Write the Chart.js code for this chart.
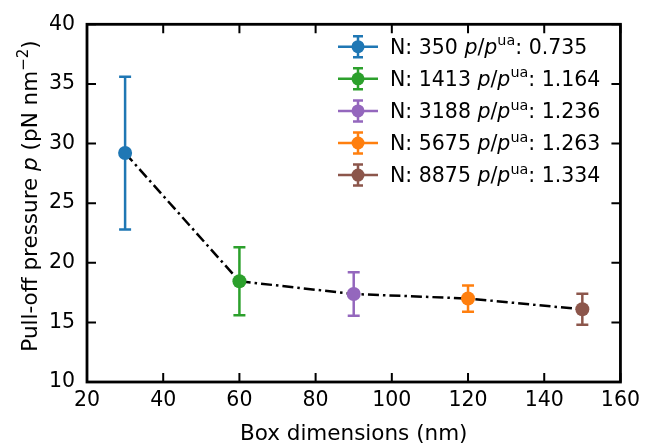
<!DOCTYPE html>
<html>
<head>
<meta charset="utf-8">
<script src="https://cdn.jsdelivr.net/npm/chart.js@4.4.1/dist/chart.umd.min.js"></script>
<style>
  html, body { margin: 0; padding: 0; background: #fff; }
  #wrap { width: 646px; height: 443px; position: relative; }
</style>
</head>
<body>
<div id="wrap"><canvas id="pressureChart"></canvas></div>
<script>
const boxSizes = [30, 60, 90, 120, 150];
const pressure = [29.2, 18.45, 17.38, 17.0, 16.1];
const pressureErr = [6.4, 2.85, 1.82, 1.1, 1.3];
const atomCounts = [350, 1413, 3188, 5675, 8875];
const pressureRatio = ["0.735", "1.164", "1.236", "1.263", "1.334"];
const seriesColors = ["#1f77b4", "#2ca02c", "#9467bd", "#ff7f0e", "#8c564b"];
const xTicks = [20, 40, 60, 80, 100, 120, 140, 160];
const yTicks = [10, 15, 20, 25, 30, 35, 40];

const FAMILY = "'DejaVu Sans', sans-serif";
const TICK_SIZE = 20.5;
const LABEL_SIZE = 21.5;
const LEGEND_SIZE = 20.5;

// mixed text: each run can be italic and/or raised as a superscript
function runFont(run, size) {
    const s = run.sup ? size * 0.7 : size;
    return (run.italic ? "italic " : "") + s + "px " + FAMILY;
}

function runsWidth(ctx, runs, size) {
    let w = 0;
    runs.forEach(r => {
        ctx.font = runFont(r, size);
        w += ctx.measureText(r.text).width;
    });
    return w;
}

function drawRuns(ctx, runs, x, y, size) {
    ctx.textAlign = "left";
    ctx.textBaseline = "alphabetic";
    runs.forEach(r => {
        ctx.font = runFont(r, size);
        const dy = r.sup ? -size * 0.42 : 0;
        ctx.fillText(r.text, x, y + dy);
        x += ctx.measureText(r.text).width;
    });
}

const trendLine = {
    data: boxSizes.map((x, i) => ({ x: x, y: pressure[i] })),
    showLine: true,
    borderColor: "#000",
    borderWidth: 2.5,
    borderDash: [11, 4, 2.5, 4],
    pointRadius: 0,
    fill: false,
    order: 1
};

const pointSets = boxSizes.map((x, i) => ({
    data: [{ x: x, y: pressure[i] }],
    backgroundColor: seriesColors[i],
    borderColor: seriesColors[i],
    borderWidth: 0,
    pointRadius: 7,
    showLine: false,
    order: 0
}));

const errorBars = {
    id: "errorBars",
    beforeDatasetsDraw(chart) {
        const ctx = chart.ctx;
        const xs = chart.scales.x, ys = chart.scales.y;
        ctx.save();
        ctx.lineWidth = 2.5;
        boxSizes.forEach((bx, i) => {
            const px = xs.getPixelForValue(bx);
            const top = ys.getPixelForValue(pressure[i] + pressureErr[i]);
            const bot = ys.getPixelForValue(pressure[i] - pressureErr[i]);
            ctx.strokeStyle = seriesColors[i];
            ctx.beginPath();
            ctx.moveTo(px, top); ctx.lineTo(px, bot);
            ctx.moveTo(px - 6, top); ctx.lineTo(px + 6, top);
            ctx.moveTo(px - 6, bot); ctx.lineTo(px + 6, bot);
            ctx.stroke();
        });
        ctx.restore();
    }
};

const frameAndLabels = {
    id: "frameAndLabels",
    afterDraw(chart) {
        const ctx = chart.ctx;
        const a = chart.chartArea;
        const xs = chart.scales.x, ys = chart.scales.y;
        ctx.save();

        // inward ticks on all four sides
        ctx.strokeStyle = "#000";
        ctx.lineWidth = 2;
        ctx.beginPath();
        xTicks.forEach(v => {
            const px = xs.getPixelForValue(v);
            ctx.moveTo(px, a.bottom); ctx.lineTo(px, a.bottom - 9);
            ctx.moveTo(px, a.top); ctx.lineTo(px, a.top + 9);
        });
        yTicks.forEach(v => {
            const py = ys.getPixelForValue(v);
            ctx.moveTo(a.left, py); ctx.lineTo(a.left + 9, py);
            ctx.moveTo(a.right, py); ctx.lineTo(a.right - 9, py);
        });
        ctx.stroke();

        ctx.lineWidth = 2.8;
        ctx.strokeRect(a.left, a.top, a.right - a.left, a.bottom - a.top);

        // axis titles
        ctx.fillStyle = "#000";
        const xTitle = [{ text: "Box dimensions (nm)" }];
        const xw = runsWidth(ctx, xTitle, LABEL_SIZE);
        drawRuns(ctx, xTitle, (a.left + a.right) / 2 - xw / 2, 440, LABEL_SIZE);

        const yTitle = [
            { text: "Pull-off pressure " },
            { text: "p", italic: true },
            { text: " (pN nm" },
            { text: "\u22122", sup: true },
            { text: ")" }
        ];
        const yw = runsWidth(ctx, yTitle, LABEL_SIZE);
        ctx.save();
        ctx.translate(37, 196);
        ctx.rotate(-Math.PI / 2);
        drawRuns(ctx, yTitle, -yw / 2, 0, LABEL_SIZE);
        ctx.restore();

        // legend: handle with marker and error bar, then the label
        atomCounts.forEach((n, i) => {
            const cy = 46.7 + i * 32.1;
            const c = seriesColors[i];
            ctx.strokeStyle = c;
            ctx.fillStyle = c;
            ctx.lineWidth = 2.5;
            ctx.beginPath();
            ctx.moveTo(338, cy); ctx.lineTo(378, cy);
            ctx.moveTo(358, cy - 10.5); ctx.lineTo(358, cy + 10.5);
            ctx.moveTo(353, cy - 10.5); ctx.lineTo(363, cy - 10.5);
            ctx.moveTo(353, cy + 10.5); ctx.lineTo(363, cy + 10.5);
            ctx.stroke();
            ctx.beginPath();
            ctx.arc(358, cy, 6.5, 0, Math.PI * 2);
            ctx.fill();

            ctx.fillStyle = "#000";
            drawRuns(ctx, [
                { text: "N: " + n + " " },
                { text: "p", italic: true },
                { text: "/" },
                { text: "p", italic: true },
                { text: "ua", sup: true },
                { text: ": " + pressureRatio[i] }
            ], 390, cy + 7.3, LEGEND_SIZE);
        });

        ctx.restore();
    }
};

new Chart(document.getElementById("pressureChart"), {
    type: "scatter",
    data: { datasets: [trendLine, ...pointSets] },
    options: {
        responsive: true,
        maintainAspectRatio: false,
        animation: false,
        layout: { padding: { top: 17.5, right: 22.5, left: 0, bottom: 0 } },
        plugins: {
            legend: { display: false },
            tooltip: { enabled: false }
        },
        scales: {
            x: {
                type: "linear",
                min: 20,
                max: 160,
                afterBuildTicks: s => { s.ticks = xTicks.map(v => ({ value: v })); },
                afterFit: s => { s.height = 61; },
                grid: { display: false, drawTicks: false },
                border: { display: false },
                ticks: {
                    color: "#000",
                    padding: 6,
                    maxRotation: 0,
                    font: { family: FAMILY, size: TICK_SIZE }
                }
            },
            y: {
                type: "linear",
                min: 10,
                max: 40,
                afterBuildTicks: s => { s.ticks = yTicks.map(v => ({ value: v })); },
                afterFit: s => { s.width = 87; },
                grid: { display: false, drawTicks: false },
                border: { display: false },
                ticks: {
                    color: "#000",
                    padding: 12,
                    font: { family: FAMILY, size: TICK_SIZE }
                }
            }
        }
    },
    plugins: [errorBars, frameAndLabels]
});
</script>
</body>
</html>
